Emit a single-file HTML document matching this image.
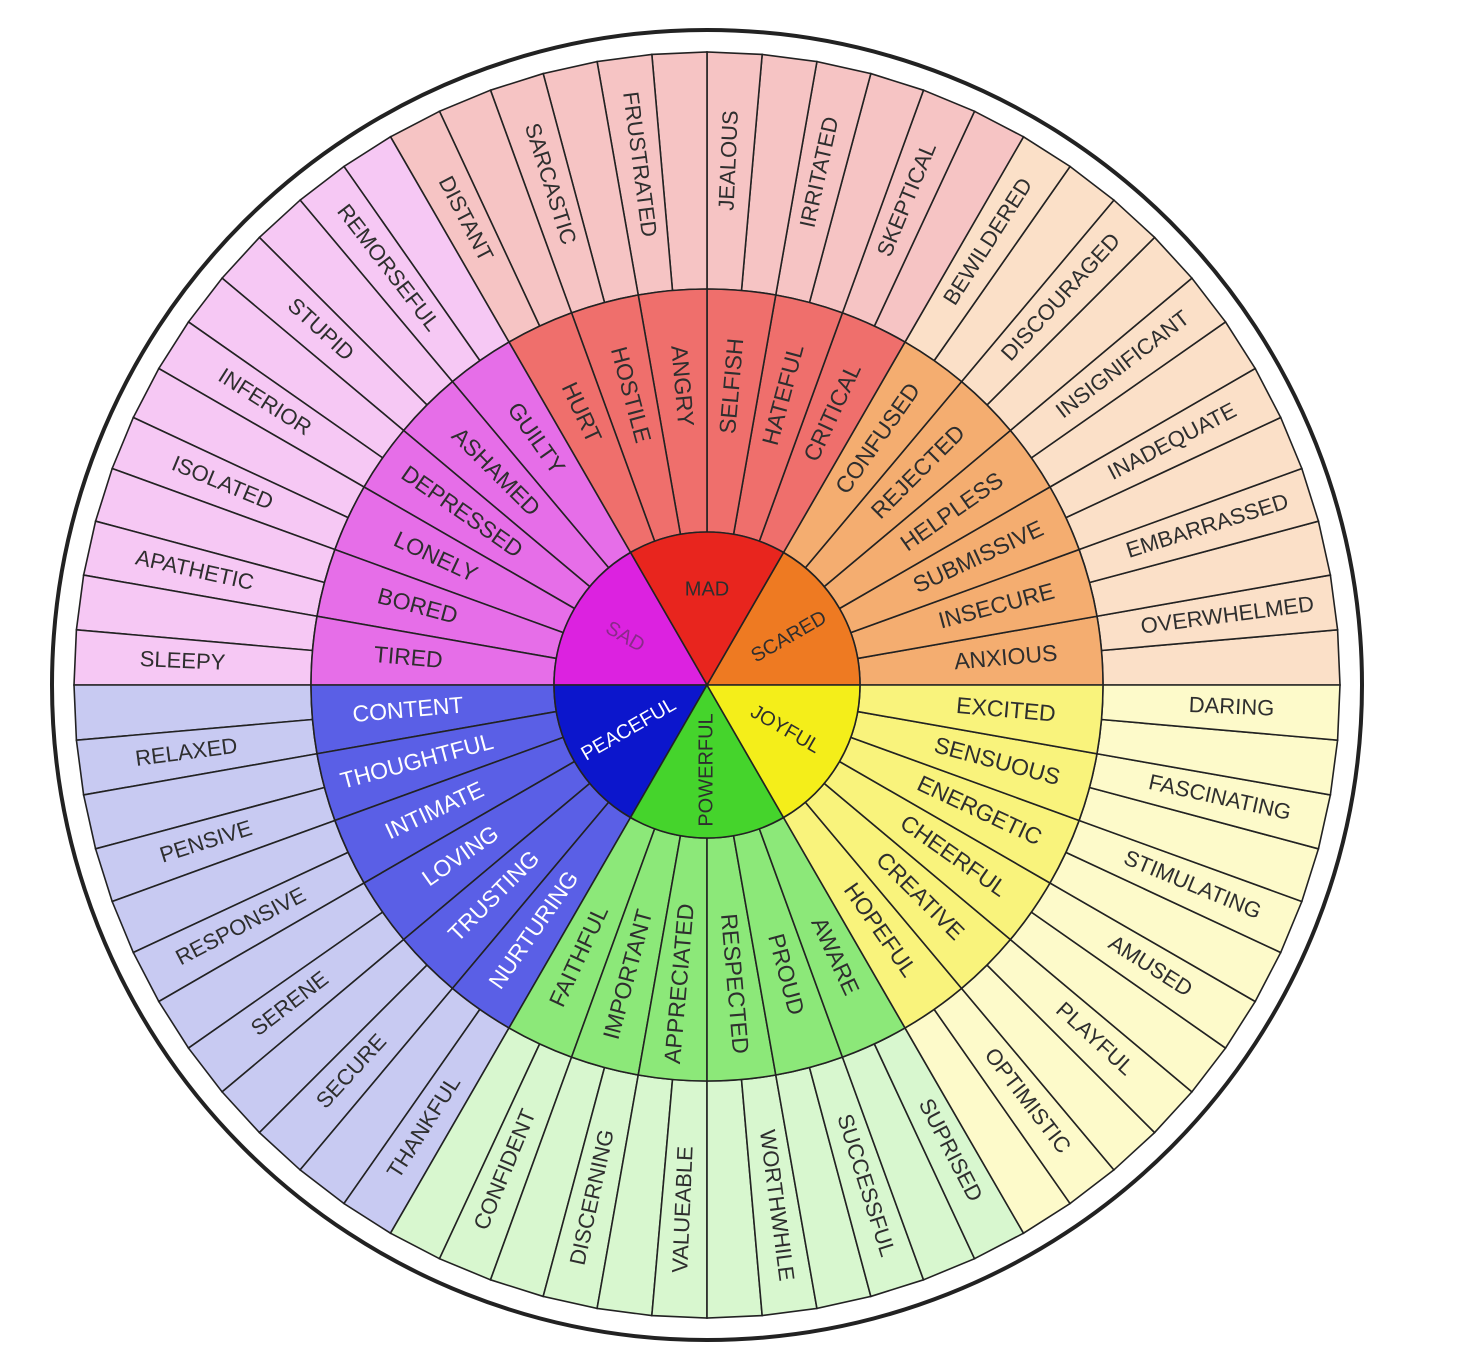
<!DOCTYPE html>
<html><head><meta charset="utf-8"><style>
html,body{margin:0;padding:0;background:#fff;}
svg{display:block;}
text{font-family:"Liberation Sans",sans-serif;fill:#2e2e2e;dominant-baseline:middle;text-anchor:middle;}
.m{font-size:23px;}
.o{font-size:22px;}
.c{font-size:20px;}
.w{fill:#fff;}
</style></head><body>
<svg width="1468" height="1358" viewBox="0 0 1468 1358" xmlns="http://www.w3.org/2000/svg">
<defs>
<path id="os" d="M396 0 L633 0 L630.59 -55.17 L394.49 -34.52 A396 396 0 0 1 396 0 Z"/>
<path id="ms" d="M153 0 L396 0 A396 396 0 0 0 389.98 -68.76 L150.68 -26.57 A153 153 0 0 1 153 0 Z"/>
<path id="cs" d="M0 0 L153 0 A153 153 0 0 0 76.5 -132.5 Z"/>
</defs>
<circle cx="707" cy="685" r="655" fill="#fff" stroke="#222" stroke-width="4"/>
<g transform="translate(707 685)" stroke="#222" stroke-width="1.6">
<g fill="#fbe0c8"><use href="#os" transform="rotate(0)"/><use href="#os" transform="rotate(-5)"/><use href="#os" transform="rotate(-10)"/><use href="#os" transform="rotate(-15)"/><use href="#os" transform="rotate(-20)"/><use href="#os" transform="rotate(-25)"/><use href="#os" transform="rotate(-30)"/><use href="#os" transform="rotate(-35)"/><use href="#os" transform="rotate(-40)"/><use href="#os" transform="rotate(-45)"/><use href="#os" transform="rotate(-50)"/><use href="#os" transform="rotate(-55)"/></g>
<g fill="#f6c4c4"><use href="#os" transform="rotate(-60)"/><use href="#os" transform="rotate(-65)"/><use href="#os" transform="rotate(-70)"/><use href="#os" transform="rotate(-75)"/><use href="#os" transform="rotate(-80)"/><use href="#os" transform="rotate(-85)"/><use href="#os" transform="rotate(-90)"/><use href="#os" transform="rotate(-95)"/><use href="#os" transform="rotate(-100)"/><use href="#os" transform="rotate(-105)"/><use href="#os" transform="rotate(-110)"/><use href="#os" transform="rotate(-115)"/></g>
<g fill="#f6c8f4"><use href="#os" transform="rotate(-120)"/><use href="#os" transform="rotate(-125)"/><use href="#os" transform="rotate(-130)"/><use href="#os" transform="rotate(-135)"/><use href="#os" transform="rotate(-140)"/><use href="#os" transform="rotate(-145)"/><use href="#os" transform="rotate(-150)"/><use href="#os" transform="rotate(-155)"/><use href="#os" transform="rotate(-160)"/><use href="#os" transform="rotate(-165)"/><use href="#os" transform="rotate(-170)"/><use href="#os" transform="rotate(-175)"/></g>
<g fill="#c8caf2"><use href="#os" transform="rotate(-180)"/><use href="#os" transform="rotate(-185)"/><use href="#os" transform="rotate(-190)"/><use href="#os" transform="rotate(-195)"/><use href="#os" transform="rotate(-200)"/><use href="#os" transform="rotate(-205)"/><use href="#os" transform="rotate(-210)"/><use href="#os" transform="rotate(-215)"/><use href="#os" transform="rotate(-220)"/><use href="#os" transform="rotate(-225)"/><use href="#os" transform="rotate(-230)"/><use href="#os" transform="rotate(-235)"/></g>
<g fill="#d8f7cf"><use href="#os" transform="rotate(-240)"/><use href="#os" transform="rotate(-245)"/><use href="#os" transform="rotate(-250)"/><use href="#os" transform="rotate(-255)"/><use href="#os" transform="rotate(-260)"/><use href="#os" transform="rotate(-265)"/><use href="#os" transform="rotate(-270)"/><use href="#os" transform="rotate(-275)"/><use href="#os" transform="rotate(-280)"/><use href="#os" transform="rotate(-285)"/><use href="#os" transform="rotate(-290)"/><use href="#os" transform="rotate(-295)"/></g>
<g fill="#fdfaca"><use href="#os" transform="rotate(-300)"/><use href="#os" transform="rotate(-305)"/><use href="#os" transform="rotate(-310)"/><use href="#os" transform="rotate(-315)"/><use href="#os" transform="rotate(-320)"/><use href="#os" transform="rotate(-325)"/><use href="#os" transform="rotate(-330)"/><use href="#os" transform="rotate(-335)"/><use href="#os" transform="rotate(-340)"/><use href="#os" transform="rotate(-345)"/><use href="#os" transform="rotate(-350)"/><use href="#os" transform="rotate(-355)"/></g>
<g fill="#f4ad70"><use href="#ms" transform="rotate(0)"/><use href="#ms" transform="rotate(-10)"/><use href="#ms" transform="rotate(-20)"/><use href="#ms" transform="rotate(-30)"/><use href="#ms" transform="rotate(-40)"/><use href="#ms" transform="rotate(-50)"/></g>
<g fill="#ef6f6c"><use href="#ms" transform="rotate(-60)"/><use href="#ms" transform="rotate(-70)"/><use href="#ms" transform="rotate(-80)"/><use href="#ms" transform="rotate(-90)"/><use href="#ms" transform="rotate(-100)"/><use href="#ms" transform="rotate(-110)"/></g>
<g fill="#e66ee8"><use href="#ms" transform="rotate(-120)"/><use href="#ms" transform="rotate(-130)"/><use href="#ms" transform="rotate(-140)"/><use href="#ms" transform="rotate(-150)"/><use href="#ms" transform="rotate(-160)"/><use href="#ms" transform="rotate(-170)"/></g>
<g fill="#5a5fe6"><use href="#ms" transform="rotate(-180)"/><use href="#ms" transform="rotate(-190)"/><use href="#ms" transform="rotate(-200)"/><use href="#ms" transform="rotate(-210)"/><use href="#ms" transform="rotate(-220)"/><use href="#ms" transform="rotate(-230)"/></g>
<g fill="#8ce879"><use href="#ms" transform="rotate(-240)"/><use href="#ms" transform="rotate(-250)"/><use href="#ms" transform="rotate(-260)"/><use href="#ms" transform="rotate(-270)"/><use href="#ms" transform="rotate(-280)"/><use href="#ms" transform="rotate(-290)"/></g>
<g fill="#f9f37c"><use href="#ms" transform="rotate(-300)"/><use href="#ms" transform="rotate(-310)"/><use href="#ms" transform="rotate(-320)"/><use href="#ms" transform="rotate(-330)"/><use href="#ms" transform="rotate(-340)"/><use href="#ms" transform="rotate(-350)"/></g>
<use href="#cs" fill="#ee7a22" transform="rotate(0)"/>
<use href="#cs" fill="#e8251e" transform="rotate(-60)"/>
<use href="#cs" fill="#dc22e0" transform="rotate(-120)"/>
<use href="#cs" fill="#0c16cc" transform="rotate(-180)"/>
<use href="#cs" fill="#45d42c" transform="rotate(-240)"/>
<use href="#cs" fill="#f4ee1a" transform="rotate(-300)"/>
</g>
<g transform="translate(707 685)">
<text class="c" transform="rotate(-30) translate(95 0)">SCARED</text>
<text class="c" transform="translate(0 -95)">MAD</text>
<text class="c" style="fill:#8a2a8a" transform="rotate(-150) translate(95 0) rotate(180)">SAD</text>
<text class="c w" transform="rotate(-210) translate(90 0) rotate(180)">PEACEFUL</text>
<text class="c" transform="rotate(-270) translate(85 0) rotate(180)">POWERFUL</text>
<text class="c" transform="rotate(-330) translate(90 0)">JOYFUL</text>
<text class="m" transform="rotate(-5) translate(300 0)">ANXIOUS</text>
<text class="m" transform="rotate(-15) translate(300 0)">INSECURE</text>
<text class="m" transform="rotate(-25) translate(300 0)">SUBMISSIVE</text>
<text class="m" transform="rotate(-35) translate(300 0)">HELPLESS</text>
<text class="m" transform="rotate(-45) translate(300 0)">REJECTED</text>
<text class="m" transform="rotate(-55) translate(300 0)">CONFUSED</text>
<text class="m" transform="rotate(-65) translate(300 0)">CRITICAL</text>
<text class="m" transform="rotate(-75) translate(300 0)">HATEFUL</text>
<text class="m" transform="rotate(-85) translate(300 0)">SELFISH</text>
<text class="m" transform="rotate(-95) translate(300 0) rotate(180)">ANGRY</text>
<text class="m" transform="rotate(-105) translate(300 0) rotate(180)">HOSTILE</text>
<text class="m" transform="rotate(-115) translate(300 0) rotate(180)">HURT</text>
<text class="m" transform="rotate(-125) translate(300 0) rotate(180)">GUILTY</text>
<text class="m" transform="rotate(-135) translate(300 0) rotate(180)">ASHAMED</text>
<text class="m" transform="rotate(-145) translate(300 0) rotate(180)">DEPRESSED</text>
<text class="m" transform="rotate(-155) translate(300 0) rotate(180)">LONELY</text>
<text class="m" transform="rotate(-165) translate(300 0) rotate(180)">BORED</text>
<text class="m" transform="rotate(-175) translate(300 0) rotate(180)">TIRED</text>
<text class="m w" transform="rotate(-185) translate(300 0) rotate(180)">CONTENT</text>
<text class="m w" transform="rotate(-195) translate(300 0) rotate(180)">THOUGHTFUL</text>
<text class="m w" transform="rotate(-205) translate(300 0) rotate(180)">INTIMATE</text>
<text class="m w" transform="rotate(-215) translate(300 0) rotate(180)">LOVING</text>
<text class="m w" transform="rotate(-225) translate(300 0) rotate(180)">TRUSTING</text>
<text class="m w" transform="rotate(-235) translate(300 0) rotate(180)">NURTURING</text>
<text class="m" transform="rotate(-245) translate(300 0) rotate(180)">FAITHFUL</text>
<text class="m" transform="rotate(-255) translate(300 0) rotate(180)">IMPORTANT</text>
<text class="m" transform="rotate(-265) translate(300 0) rotate(180)">APPRECIATED</text>
<text class="m" transform="rotate(-275) translate(300 0)">RESPECTED</text>
<text class="m" transform="rotate(-285) translate(300 0)">PROUD</text>
<text class="m" transform="rotate(-295) translate(300 0)">AWARE</text>
<text class="m" transform="rotate(-305) translate(300 0)">HOPEFUL</text>
<text class="m" transform="rotate(-315) translate(300 0)">CREATIVE</text>
<text class="m" transform="rotate(-325) translate(300 0)">CHEERFUL</text>
<text class="m" transform="rotate(-335) translate(300 0)">ENERGETIC</text>
<text class="m" transform="rotate(-345) translate(300 0)">SENSUOUS</text>
<text class="m" transform="rotate(-355) translate(300 0)">EXCITED</text>
<text class="o" transform="rotate(-7.5) translate(525 0)">OVERWHELMED</text>
<text class="o" transform="rotate(-17.5) translate(525 0)">EMBARRASSED</text>
<text class="o" transform="rotate(-27.5) translate(525 0)">INADEQUATE</text>
<text class="o" transform="rotate(-37.5) translate(525 0)">INSIGNIFICANT</text>
<text class="o" transform="rotate(-47.5) translate(525 0)">DISCOURAGED</text>
<text class="o" transform="rotate(-57.5) translate(525 0)">BEWILDERED</text>
<text class="o" transform="rotate(-67.5) translate(525 0)">SKEPTICAL</text>
<text class="o" transform="rotate(-77.5) translate(525 0)">IRRITATED</text>
<text class="o" transform="rotate(-87.5) translate(525 0)">JEALOUS</text>
<text class="o" transform="rotate(-97.5) translate(525 0) rotate(180)">FRUSTRATED</text>
<text class="o" transform="rotate(-107.5) translate(525 0) rotate(180)">SARCASTIC</text>
<text class="o" transform="rotate(-117.5) translate(525 0) rotate(180)">DISTANT</text>
<text class="o" transform="rotate(-127.5) translate(525 0) rotate(180)">REMORSEFUL</text>
<text class="o" transform="rotate(-137.5) translate(525 0) rotate(180)">STUPID</text>
<text class="o" transform="rotate(-147.5) translate(525 0) rotate(180)">INFERIOR</text>
<text class="o" transform="rotate(-157.5) translate(525 0) rotate(180)">ISOLATED</text>
<text class="o" transform="rotate(-167.5) translate(525 0) rotate(180)">APATHETIC</text>
<text class="o" transform="rotate(-177.5) translate(525 0) rotate(180)">SLEEPY</text>
<text class="o" transform="rotate(-187.5) translate(525 0) rotate(180)">RELAXED</text>
<text class="o" transform="rotate(-197.5) translate(525 0) rotate(180)">PENSIVE</text>
<text class="o" transform="rotate(-207.5) translate(525 0) rotate(180)">RESPONSIVE</text>
<text class="o" transform="rotate(-217.5) translate(525 0) rotate(180)">SERENE</text>
<text class="o" transform="rotate(-227.5) translate(525 0) rotate(180)">SECURE</text>
<text class="o" transform="rotate(-237.5) translate(525 0) rotate(180)">THANKFUL</text>
<text class="o" transform="rotate(-247.5) translate(525 0) rotate(180)">CONFIDENT</text>
<text class="o" transform="rotate(-257.5) translate(525 0) rotate(180)">DISCERNING</text>
<text class="o" transform="rotate(-267.5) translate(525 0) rotate(180)">VALUEABLE</text>
<text class="o" transform="rotate(-277.5) translate(525 0)">WORTHWHILE</text>
<text class="o" transform="rotate(-287.5) translate(525 0)">SUCCESSFUL</text>
<text class="o" transform="rotate(-297.5) translate(525 0)">SUPRISED</text>
<text class="o" transform="rotate(-307.5) translate(525 0)">OPTIMISTIC</text>
<text class="o" transform="rotate(-317.5) translate(525 0)">PLAYFUL</text>
<text class="o" transform="rotate(-327.5) translate(525 0)">AMUSED</text>
<text class="o" transform="rotate(-337.5) translate(525 0)">STIMULATING</text>
<text class="o" transform="rotate(-347.5) translate(525 0)">FASCINATING</text>
<text class="o" transform="rotate(-357.5) translate(525 0)">DARING</text>
</g>
</svg>
</body></html>
